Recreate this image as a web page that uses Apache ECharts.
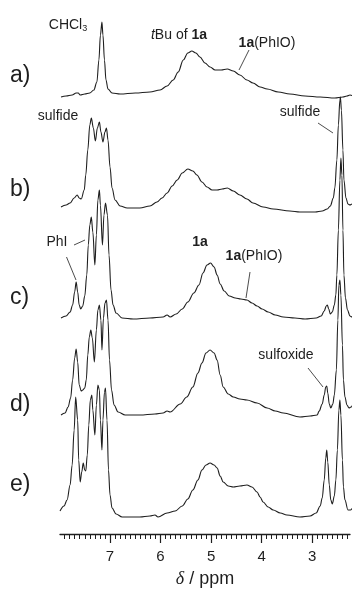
<!DOCTYPE html>
<html>
<head>
<meta charset="utf-8">
<script src="https://cdn.jsdelivr.net/npm/echarts@6/dist/echarts.min.js"></script>
<style>
  html, body { margin: 0; padding: 0; background: #fff; }
  #box { width: 354px; height: 597px; }
</style>
</head>
<body>
<div id="box"></div>
<script>
// spectra: [delta / ppm, intensity above own baseline]
var specA = [[7.97,-1],[7.87,0],[7.75,1],[7.67,3],[7.63,3],[7.59,1],[7.50,2],[7.40,3],[7.32,6],[7.26,14],
  [7.22,36],[7.19,61],[7.16,74],[7.14,61],[7.11,36],[7.08,16],[7.04,7],[6.96,3],[6.80,2],[6.50,3],[6.21,4],
  [6.01,6],[5.87,10],[5.75,16],[5.65,24],[5.55,36],[5.46,43],[5.38,45],[5.30,43],[5.22,39],[5.12,33],[5.02,29],
  [4.92,26],[4.80,26],[4.68,27],[4.56,25],[4.43,21],[4.29,16],[4.17,13],[4.03,9],[3.89,7],[3.67,4],[3.44,2],
  [3.14,0],[2.84,-1],[2.55,-2],[2.39,-1],[2.31,0],[2.25,1],[2.19,0]];

var specB = [[7.97,1],[7.87,3],[7.79,5],[7.71,10],[7.65,13],[7.61,10],[7.57,9],[7.51,18],[7.48,33],[7.44,58],
  [7.40,83],[7.37,90],[7.33,80],[7.29,67],[7.25,80],[7.21,86],[7.18,76],[7.14,66],[7.10,76],[7.07,80],[7.04,68],
  [7.00,41],[6.96,20],[6.90,8],[6.80,2],[6.66,0],[6.41,0],[6.21,2],[6.07,6],[5.97,10],[5.87,15],[5.77,22],
  [5.67,28],[5.57,35],[5.46,39],[5.36,37],[5.28,33],[5.18,26],[5.08,21],[4.98,18],[4.88,18],[4.78,19],[4.68,20],
  [4.56,17],[4.43,13],[4.29,9],[4.17,5],[3.97,1],[3.77,-1],[3.44,-3],[3.24,-4],[2.94,-4],[2.80,-3],[2.70,-1],
  [2.64,2],[2.58,10],[2.55,20],[2.51,48],[2.48,83],[2.45,108],[2.44,111],[2.42,98],[2.39,58],[2.37,28],
  [2.33,10],[2.29,4],[2.25,3],[2.21,4],[2.17,6]];

var specC = [[7.97,0],[7.87,2],[7.79,6],[7.74,13],[7.70,26],[7.67,36],[7.64,26],[7.61,13],[7.58,9],[7.54,12],
  [7.50,22],[7.46,43],[7.43,73],[7.40,93],[7.37,101],[7.34,86],[7.30,53],[7.27,83],[7.24,118],[7.21,128],
  [7.19,113],[7.15,73],[7.12,103],[7.09,115],[7.05,103],[7.02,63],[6.98,28],[6.94,13],[6.88,5],[6.76,0],
  [6.54,-1],[6.21,0],[5.95,1],[5.87,3],[5.81,1],[5.69,4],[5.57,9],[5.46,16],[5.34,25],[5.24,33],[5.16,45],
  [5.08,53],[5.01,55],[4.94,51],[4.88,43],[4.82,34],[4.74,27],[4.64,22],[4.52,20],[4.41,19],[4.29,18],
  [4.19,15],[4.09,12],[3.99,9],[3.87,6],[3.73,3],[3.57,1],[3.34,0],[3.14,-1],[2.92,0],[2.82,2],[2.76,7],
  [2.72,12],[2.70,13],[2.67,9],[2.64,4],[2.60,6],[2.56,13],[2.53,23],[2.51,43],[2.48,88],[2.45,138],[2.43,160],
  [2.41,143],[2.39,88],[2.37,43],[2.34,20],[2.30,8],[2.25,2],[2.21,1],[2.17,3]];

var specD = [[7.97,0],[7.89,2],[7.83,8],[7.78,17],[7.74,35],[7.70,57],[7.67,66],[7.64,53],[7.61,30],[7.57,24],
  [7.54,25],[7.50,27],[7.47,35],[7.44,60],[7.41,78],[7.38,85],[7.35,77],[7.31,53],[7.27,85],[7.24,105],
  [7.21,110],[7.18,95],[7.16,65],[7.13,97],[7.10,112],[7.07,115],[7.04,95],[7.01,55],[6.97,25],[6.92,10],
  [6.84,3],[6.70,0],[6.41,0],[6.11,1],[5.95,2],[5.87,4],[5.81,3],[5.61,11],[5.48,18],[5.36,28],[5.26,42],
  [5.18,52],[5.10,62],[5.02,65],[4.94,62],[4.88,55],[4.82,40],[4.76,28],[4.66,21],[4.56,18],[4.43,16],
  [4.29,15],[4.09,12],[3.89,7],[3.73,4],[3.57,2],[3.24,-2],[3.04,-1],[2.90,0],[2.86,4],[2.80,11],[2.76,20],
  [2.73,28],[2.71,29],[2.69,22],[2.66,11],[2.63,7],[2.59,11],[2.56,20],[2.52,45],[2.49,95],[2.47,130],
  [2.45,135],[2.43,120],[2.40,70],[2.38,35],[2.35,18],[2.31,10],[2.27,7],[2.23,8],[2.19,11]];

var specE = [[7.99,6],[7.91,11],[7.85,17],[7.79,32],[7.75,52],[7.71,87],[7.68,120],[7.64,97],[7.62,57],[7.59,35],
  [7.56,45],[7.53,54],[7.50,47],[7.48,46],[7.45,62],[7.42,92],[7.39,117],[7.36,122],[7.34,107],[7.30,82],
  [7.27,112],[7.24,132],[7.21,127],[7.19,97],[7.16,67],[7.14,97],[7.11,125],[7.09,129],[7.06,97],[7.03,47],
  [7.00,22],[6.96,9],[6.88,3],[6.76,0],[6.41,0],[6.21,1],[6.11,2],[6.05,0],[5.87,4],[5.71,6],[5.57,11],
  [5.46,18],[5.36,27],[5.26,37],[5.18,47],[5.10,52],[5.02,54],[4.94,52],[4.88,49],[4.82,41],[4.76,35],
  [4.66,31],[4.56,30],[4.43,31],[4.29,32],[4.19,30],[4.09,25],[4.03,20],[3.97,15],[3.87,10],[3.77,7],
  [3.63,4],[3.50,2],[3.24,0],[3.04,1],[2.92,4],[2.84,11],[2.80,19],[2.76,37],[2.73,59],[2.71,67],[2.69,55],
  [2.66,32],[2.63,17],[2.60,13],[2.56,21],[2.53,37],[2.50,67],[2.47,107],[2.45,117],[2.43,102],[2.40,57],
  [2.38,30],[2.35,17],[2.29,7],[2.24,7],[2.19,10]];

var spectra = [specA, specB, specC, specD, specE];
var traceNames = ['a)', 'b)', 'c)', 'd)', 'e)'];
var baselines = [438, 326, 216, 119, 17];   // vertical stacking of the traces

var majorTicks = [3, 4, 5, 6, 7];
var minorTicks = [];
for (var t = 23; t <= 79; t++) minorTicks.push(t / 10);

var font = '"Liberation Sans", Arial, sans-serif';
var ink = '#1e1e1e';

var myChart = echarts.init(document.getElementById('box'));

var series = spectra.map(function (s, i) {
  return {
    name: traceNames[i],
    type: 'line',
    xAxisIndex: 0,
    data: s.map(function (p) { return [p[0], p[1] + baselines[i]]; }),
    showSymbol: false,
    symbol: 'none',
    smooth: 0.35,
    smoothMonotone: 'x',
    clip: false,
    silent: true,
    lineStyle: { color: ink, width: 1.1 }
  };
});

function txt(x, y, text, size, align, rich) {
  return {
    type: 'text', x: x, y: y, silent: true,
    style: {
      text: text, fill: ink, font: size + 'px ' + font,
      align: align || 'center', verticalAlign: 'middle', rich: rich || {}
    }
  };
}
function lead(x1, y1, x2, y2) {
  return { type: 'line', silent: true, shape: { x1: x1, y1: y1, x2: x2, y2: y2 },
    style: { stroke: ink, lineWidth: 0.8 } };
}

var richB = { b: { fontWeight: 'bold', fontSize: 14, fontFamily: font, fill: ink } };
var graphics = [];
var labelY = [76, 190, 298, 405, 485];
traceNames.forEach(function (n, i) { graphics.push(txt(10, labelY[i], n, 23, 'left')); });
graphics.push(
  txt(68, 25, 'CHCl{s|3}', 14, 'center', { s: { fontSize: 9, fontFamily: font, fill: ink, padding: [7, 0, 0, 0] } }),
  txt(179, 35, '{i|t}Bu of {b|1a}', 14, 'center', {
    i: { fontStyle: 'italic', fontSize: 14, fontFamily: font, fill: ink },
    b: richB.b }),
  txt(267, 43, '{b|1a}(PhIO)', 14, 'center', richB),
  lead(249, 50, 239, 70),
  txt(58, 116, 'sulfide', 14),
  txt(300, 112, 'sulfide', 14),
  lead(318, 123, 333, 133),
  txt(57, 242, 'PhI', 14),
  lead(74, 245, 85, 240),
  lead(66.5, 257, 76, 280),
  txt(200, 242, '{b|1a}', 14, 'center', richB),
  txt(254, 256, '{b|1a}(PhIO)', 14, 'center', richB),
  lead(250, 272, 246, 298),
  txt(286, 355, 'sulfoxide', 14),
  lead(308, 368, 323, 387)
);

var option = {
  animation: false,
  grid: { left: 60, right: 4, top: 0, bottom: 63 },
  xAxis: [
    {
      type: 'value', inverse: true, min: 2.25, max: 7.99,
      name: '{d|δ} / ppm', nameLocation: 'middle', nameGap: 36,
      nameTextStyle: {
        fontSize: 18, fontFamily: font, color: ink,
        rich: { d: { fontStyle: 'italic', fontSize: 18, fontFamily: '"Liberation Serif", serif', color: ink } }
      },
      splitLine: { show: false },
      axisLine: { show: true, lineStyle: { color: ink, width: 1.3 } },
      axisTick: { show: true, customValues: majorTicks, length: 9, lineStyle: { color: ink, width: 1.2 } },
      axisLabel: { customValues: majorTicks, margin: 15, fontSize: 15, fontFamily: font, color: ink }
    },
    {
      type: 'value', inverse: true, min: 2.25, max: 7.99, position: 'bottom',
      splitLine: { show: false },
      axisLine: { show: false },
      axisTick: { show: true, customValues: minorTicks, length: 5, lineStyle: { color: ink, width: 1 } },
      axisLabel: { show: false }
    }
  ],
  yAxis: { type: 'value', min: 0, max: 534, show: false, splitLine: { show: false } },
  series: series,
  graphic: graphics
};
myChart.setOption(option);
</script>
</body>
</html>
